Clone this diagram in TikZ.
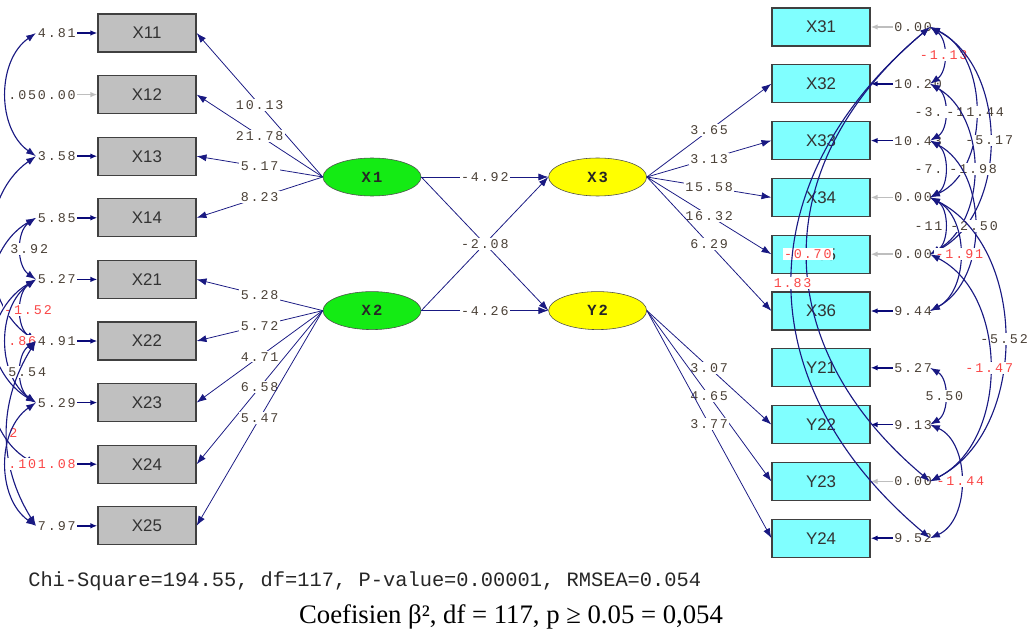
\documentclass[tikz,border=0pt]{standalone}
\usepackage{fontspec}
\setmainfont{Liberation Serif}
\setsansfont{Liberation Sans}
\newfontfamily\lisrel[LetterSpace=14]{Liberation Mono}
\newfontfamily\chifont{Liberation Mono}
\usetikzlibrary{positioning,shapes.geometric,arrows.meta}
\definecolor{pathblue}{RGB}{25,25,130}
\definecolor{tipblue}{RGB}{10,10,120}
\definecolor{labgray}{RGB}{75,65,55}
\definecolor{labred}{RGB}{250,70,70}
\definecolor{boxgray}{RGB}{192,192,192}
\definecolor{boxcyan}{RGB}{128,255,255}
\definecolor{latgreen}{RGB}{20,235,20}
\definecolor{latyellow}{RGB}{255,255,0}
\definecolor{fixgray}{RGB}{190,190,190}
\tikzset{
  xbox/.style={rectangle, draw=black!75, line width=0.9pt, fill=boxgray, minimum width=2.45cm, minimum height=0.95cm, inner sep=0pt, font=\sffamily\fontsize{12}{12}\selectfont, text=black!80},
  ybox/.style={xbox, fill=boxcyan},
  latg/.style={ellipse, draw=black!70, fill=latgreen, minimum width=2.45cm, minimum height=0.95cm, inner sep=0pt, font=\lisrel\bfseries\fontsize{11}{11}\selectfont, text=black!85},
  laty/.style={latg, fill=latyellow},
  connect/.style={-{Latex[length=7pt,width=5pt]}, pathblue, line width=0.55pt},
  cov/.style={{Latex[length=7pt,width=5pt]}-{Latex[length=7pt,width=5pt]}, pathblue, line width=0.8pt},
  errlab/.style={font=\lisrel\fontsize{9.5}{9.5}\selectfont, text=labgray, inner sep=1pt},
  lerr/.style={errlab, text width=0.95cm, align=right},
  rerr/.style={errlab, text width=0.85cm, align=left},
  pathlab/.style={errlab, fill=white, pos=0.5},
  redlab/.style={pathlab, text=labred},
  errarrow/.style={-{Latex[length=5pt,width=4pt]}, tipblue, line width=1.1pt},
  fixarrow/.style={errarrow, fixgray}
}

\begin{document}
\begin{tikzpicture}[x=0.025cm, y=-0.025cm]
  \useasboundingbox (0,0) rectangle (1036,636);
  \clip (0,0) rectangle (1036,636);

  % observed variables, left
  \node[xbox] (X11) at (147,33) {X11};
  \node[xbox] (X12) [below=0.558cm of X11] {X12};
  \node[xbox] (X13) [below=0.558cm of X12] {X13};
  \node[xbox] (X14) [below=0.558cm of X13] {X14};
  \node[xbox] (X21) [below=0.558cm of X14] {X21};
  \node[xbox] (X22) [below=0.558cm of X21] {X22};
  \node[xbox] (X23) [below=0.558cm of X22] {X23};
  \node[xbox] (X24) [below=0.558cm of X23] {X24};
  \node[xbox] (X25) [below=0.558cm of X24] {X25};

  % observed variables, right
  \node[ybox] (X31) at (821,27) {X31};
  \node[ybox] (X32) [below=0.438cm of X31] {X32};
  \node[ybox] (X33) [below=0.438cm of X32] {X33};
  \node[ybox] (X34) [below=0.438cm of X33] {X34};
  \node[ybox] (X35) [below=0.438cm of X34] {X35};
  \node[ybox] (X36) [below=0.438cm of X35] {X36};
  \node[ybox] (Y21) [below=0.438cm of X36] {Y21};
  \node[ybox] (Y22) [below=0.438cm of Y21] {Y22};
  \node[ybox] (Y23) [below=0.438cm of Y22] {Y23};
  \node[ybox] (Y24) [below=0.438cm of Y23] {Y24};

  % latent variables
  \node[latg] (X1) at (372,177) {X1};
  \node[latg] (X2) [below=2.375cm of X1] {X2};
  \node[laty] (X3) [right=3.175cm of X1] {X3};
  \node[laty] (Y2) [right=3.175cm of X2] {Y2};

  % error variances
  \node[lerr] (e11) [left=0.5cm of X11] {4.81};
  \node[lerr] (e12) [left=0.5cm of X12] {0.00};
  \node[lerr] (e13) [left=0.5cm of X13] {3.58};
  \node[lerr] (e14) [left=0.5cm of X14] {5.85};
  \node[lerr] (e21) [left=0.5cm of X21] {5.27};
  \node[lerr] (e22) [left=0.5cm of X22] {4.91};
  \node[lerr] (e23) [left=0.5cm of X23] {5.29};
  \node[lerr, text=labred] (e24) [left=0.5cm of X24] {1.08};
  \node[lerr] (e25) [left=0.5cm of X25] {7.97};
  \node[rerr] (e31) [right=0.55cm of X31] {0.00};
  \node[rerr] (e32) [right=0.55cm of X32] {10.20};
  \node[rerr] (e33) [right=0.55cm of X33] {10.43};
  \node[rerr] (e34) [right=0.55cm of X34] {0.00};
  \node[rerr] (e35) [right=0.55cm of X35] {0.00};
  \node[rerr] (e36) [right=0.55cm of X36] {9.44};
  \node[rerr] (g21) [right=0.55cm of Y21] {5.27};
  \node[rerr] (g22) [right=0.55cm of Y22] {9.13};
  \node[rerr] (g23) [right=0.55cm of Y23] {0.00};
  \node[rerr] (g24) [right=0.55cm of Y24] {9.52};

  \path (e11) edge[errarrow] (X11)
        (e12) edge[fixarrow] (X12)
        (e13) edge[errarrow] (X13)
        (e14) edge[errarrow] (X14)
        (e21) edge[errarrow] (X21)
        (e22) edge[errarrow] (X22)
        (e23) edge[errarrow] (X23)
        (e24) edge[errarrow] (X24)
        (e25) edge[errarrow] (X25);
  \path (e31) edge[fixarrow] (X31)
        (e32) edge[errarrow] (X32)
        (e33) edge[errarrow] (X33)
        (e34) edge[fixarrow] (X34)
        (e35) edge[fixarrow] (X35)
        (e36) edge[errarrow] (X36)
        (g21) edge[errarrow] (Y21)
        (g22) edge[errarrow] (Y22)
        (g23) edge[fixarrow] (Y23)
        (g24) edge[errarrow] (Y24);

  % loadings
  \path (X1.west) edge[connect] node[pathlab] (p11) {10.13} (X11.east)
        (X1.west) edge[connect] node[pathlab] (p12) {21.78} (X12.east)
        (X1.west) edge[connect] node[pathlab] (p13) {5.17} (X13.east)
        (X1.west) edge[connect] node[pathlab] (p14) {8.23} (X14.east);
  \path (X2.west) edge[connect] node[pathlab] (p21) {5.28} (X21.east)
        (X2.west) edge[connect] node[pathlab] (p22) {5.72} (X22.east)
        (X2.west) edge[connect] node[pathlab] (p23) {4.71} (X23.east)
        (X2.west) edge[connect] node[pathlab] (p24) {6.58} (X24.east)
        (X2.west) edge[connect] node[pathlab] (p25) {5.47} (X25.east);
  \path (X3.east) edge[connect] node[pathlab] (p32) {3.65} (X32.west)
        (X3.east) edge[connect] node[pathlab] (p33) {3.13} (X33.west)
        (X3.east) edge[connect] node[pathlab] (p34) {15.58} (X34.west)
        (X3.east) edge[connect] node[pathlab] (p35) {16.32} (X35.west)
        (X3.east) edge[connect] node[pathlab] (p36) {6.29} (X36.west);
  \path (Y2.east) edge[connect] node[pathlab] (q22) {3.07} (Y22.west)
        (Y2.east) edge[connect] node[pathlab] (q23) {4.65} (Y23.west)
        (Y2.east) edge[connect] node[pathlab] (q24) {3.77} (Y24.west);

  % structural paths
  \path (X1.east) edge[connect] node[pathlab] (s1) {-4.92} (X3.west)
        (X2.east) edge[connect] node[pathlab] (s2) {-4.26} (Y2.west)
        (X1.east) edge[connect] (Y2.west)
        (X2.east) edge[connect] node[pathlab] (s3) {-2.08} (X3.west);

  % error covariances, left
  \path (e11.west) edge[cov, bend right=55] node[pathlab, anchor=west] (c1) {.05} (e13.west)
        (e13.west) edge[cov, bend right=55] (e22.west)
        (e14.west) edge[cov, bend right=55] node[pathlab, xshift=0.2cm] (c2) {3.92} (e21.west)
        (e14.west) edge[cov, bend right=60] (e23.west)
        (e21.west) edge[cov, bend right=55] node[redlab, xshift=0.17cm] (c3) {-1.52} (e22.west)
        (e21.west) edge[cov, bend right=55] node[redlab, anchor=west] (c4) {.86} (e23.west)
        (e21.west) edge[cov, bend right=60] (e24.west)
        (e22.west) edge[cov, bend right=55] node[pathlab, xshift=0.15cm] (c5) {5.54} (e23.west)
        (e22.west) edge[cov, bend right=32] node[redlab, anchor=west] (c6) {2} (e25.west)
        (e23.west) edge[cov, bend right=55] node[redlab, anchor=west] (c7) {.10} (e25.west);

  % error covariances, right
  \path (e31.east) edge[cov, bend left=55] node[redlab] (d1) {-1.13} (e32.east)
        (e32.east) edge[cov, bend left=60] node[pathlab, anchor=east] (d2) {-3.} (e33.east)
        (e33.east) edge[cov, bend left=60] node[pathlab, anchor=east] (d3) {-7.} (e34.east)
        (e34.east) edge[cov, bend left=60] node[pathlab, anchor=east] (d4) {-11} (e35.east)
        (g21.east) edge[cov, bend left=60] node[pathlab] (d5) {5.50} (g22.east)
        (g22.east) edge[cov, bend left=66] node[redlab] (d6) {-1.44} (g24.east);
  \path (e31.east) edge[cov, bend left=65] node[pathlab] (d7) {-11.44} (e34.east)
        (e31.east) edge[cov, bend left=63] node[pathlab] (d8) {-5.17} (e35.east)
        (e32.east) edge[cov, bend left=60] node[pathlab] (d9) {-1.98} (e35.east)
        (e33.east) edge[cov, bend left=62] node[pathlab] (d10) {-2.50} (e36.east)
        (e34.east) edge[cov, bend left=62] node[redlab] (d11) {-1.91} (e36.east)
        (e34.east) edge[cov, bend left=63] node[pathlab] (d12) {-5.52} (g23.east)
        (e35.east) edge[cov, bend left=63] node[redlab] (d13) {-1.47} (g23.east);
  \path (e31.east) edge[cov, bend right=50, looseness=1.2] node[redlab] (d14) {-0.70} (g23.east)
        (e31.east) edge[cov, bend right=50, looseness=1.2] node[redlab] (d15) {1.83} (g24.east);

  % fit statistics
  \node[font=\chifont\fontsize{14.5}{14.5}\selectfont, text=black!85, anchor=west, inner sep=0pt] (chi) at (28,581) {Chi-Square=194.55, df=117, P-value=0.00001, RMSEA=0.054};
  \node[font=\fontsize{19}{19}\selectfont, text=black, inner sep=0pt] (coef) at (511,617) {Coefisien β², df = 117, p ≥ 0.05 = 0,054};
\end{tikzpicture}
\end{document}
